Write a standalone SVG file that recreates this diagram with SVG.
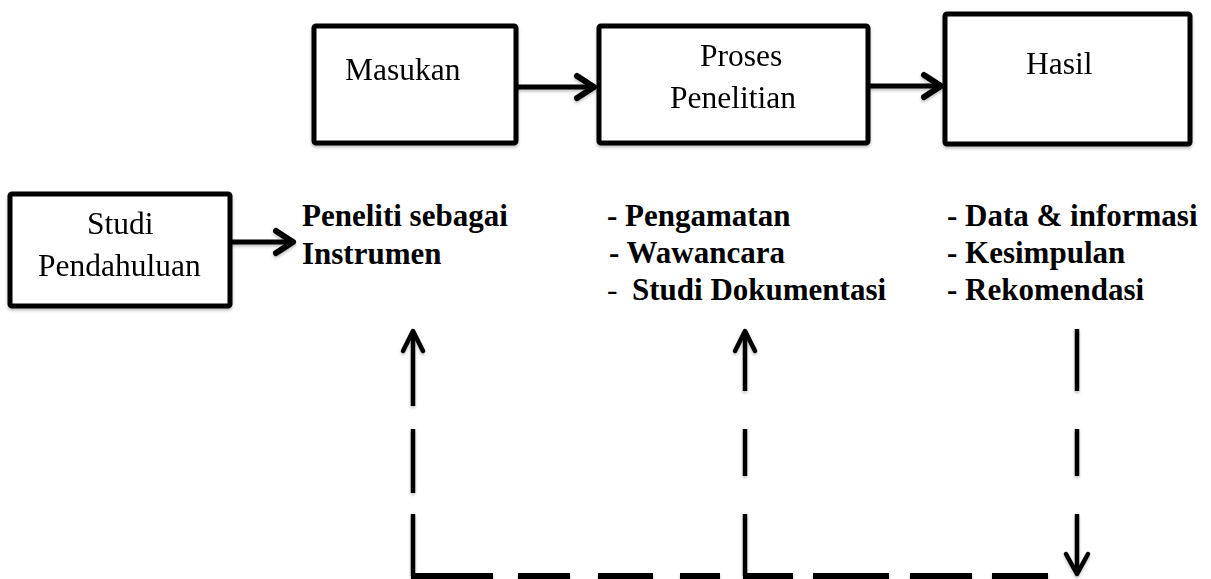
<svg xmlns="http://www.w3.org/2000/svg" width="1211" height="579" viewBox="0 0 1211 579">
<style>
.box{fill:#fff;stroke:#000;stroke-width:5;}
.t{font-family:"Liberation Serif","Times New Roman",serif;font-size:31.5px;fill:#000;}
.b{font-family:"Liberation Serif","Times New Roman",serif;font-size:31px;font-weight:bold;fill:#000;}
.ln{fill:none;stroke:#000;stroke-width:5;stroke-linecap:round;stroke-linejoin:round;}
.ch{fill:none;stroke:#000;stroke-width:6;stroke-linecap:round;stroke-linejoin:round;}
.dl{fill:none;stroke:#000;stroke-width:4.5;}
.hd{fill:none;stroke:#000;stroke-width:4.5;stroke-linecap:round;stroke-linejoin:round;}
</style>
<defs>
<filter id="sh" x="-10%" y="-10%" width="130%" height="130%">
<feDropShadow dx="0" dy="2" stdDeviation="1.5" flood-color="#000" flood-opacity="0.25"/>
</filter>
</defs>
<rect width="1211" height="579" fill="#fff"/>

<g id="masukan" filter="url(#sh)">
<rect class="box" x="314" y="26" width="202" height="117" rx="2"/>
<text class="t" x="345" y="80">Masukan</text>
</g>
<g id="proses" filter="url(#sh)">
<rect class="box" x="599" y="26" width="269" height="117" rx="2"/>
<text class="t" x="700" y="66">Proses</text>
<text class="t" x="670" y="108">Penelitian</text>
</g>
<g id="hasil" filter="url(#sh)">
<rect class="box" x="945" y="14" width="245" height="130" rx="2"/>
<text class="t" x="1026" y="74">Hasil</text>
</g>
<g id="studi" filter="url(#sh)">
<rect class="box" x="10" y="194" width="220" height="112" rx="2"/>
<text class="t" x="87" y="234">Studi</text>
<text class="t" x="38" y="276">Pendahuluan</text>
</g>

<g id="peneliti">
<text class="b" x="302" y="226">Peneliti sebagai</text>
<text class="b" x="302" y="264">Instrumen</text>
</g>
<g id="metode">
<text class="b" x="607" y="226">- Pengamatan</text>
<text class="b" x="609" y="263">- Wawancara</text>
<text class="t" x="607" y="300">-</text>
<text class="b" x="632" y="300">Studi Dokumentasi</text>
</g>
<g id="output">
<text class="b" x="947" y="226">- Data &amp; informasi</text>
<text class="b" x="947" y="263">- Kesimpulan</text>
<text class="b" x="947" y="300">- Rekomendasi</text>
</g>

<g id="connectors" filter="url(#sh)">
<line class="ln" x1="518" y1="87" x2="592" y2="87"/>
<polyline class="ch" points="577,76 594,87 577,98"/>
<line class="ln" x1="870" y1="86" x2="939" y2="86"/>
<polyline class="ch" points="924,75 941,86 924,97"/>
<line class="ln" x1="232" y1="242" x2="291" y2="242"/>
<polyline class="ch" points="276,231 293,242 276,253"/>

<line class="dl" x1="413" y1="332" x2="413" y2="406"/>
<line class="dl" x1="413" y1="429" x2="413" y2="493"/>
<line class="dl" x1="413" y1="514" x2="413" y2="576"/>
<polyline class="hd" points="403,351 413,331 423,351"/>

<line class="dl" x1="745" y1="332" x2="745" y2="391"/>
<line class="dl" x1="745" y1="429" x2="745" y2="476"/>
<line class="dl" x1="745" y1="514" x2="745" y2="576"/>
<polyline class="hd" points="735,351 745,331 755,351"/>

<line class="dl" x1="1077" y1="329" x2="1077" y2="391"/>
<line class="dl" x1="1077" y1="429" x2="1077" y2="476"/>
<line class="dl" x1="1077" y1="514" x2="1077" y2="572"/>
<polyline class="hd" points="1066,554 1077,574 1088,554"/>

<g stroke="#000" stroke-width="8">
<line x1="411" y1="577" x2="493" y2="577"/>
<line x1="518" y1="577" x2="570" y2="577"/>
<line x1="598" y1="577" x2="653" y2="577"/>
<line x1="680" y1="577" x2="720" y2="577"/>
<line x1="743" y1="577" x2="793" y2="577"/>
<line x1="813" y1="577" x2="889" y2="577"/>
<line x1="910" y1="577" x2="972" y2="577"/>
<line x1="992" y1="577" x2="1048" y2="577"/>
</g>
</g>
</svg>
